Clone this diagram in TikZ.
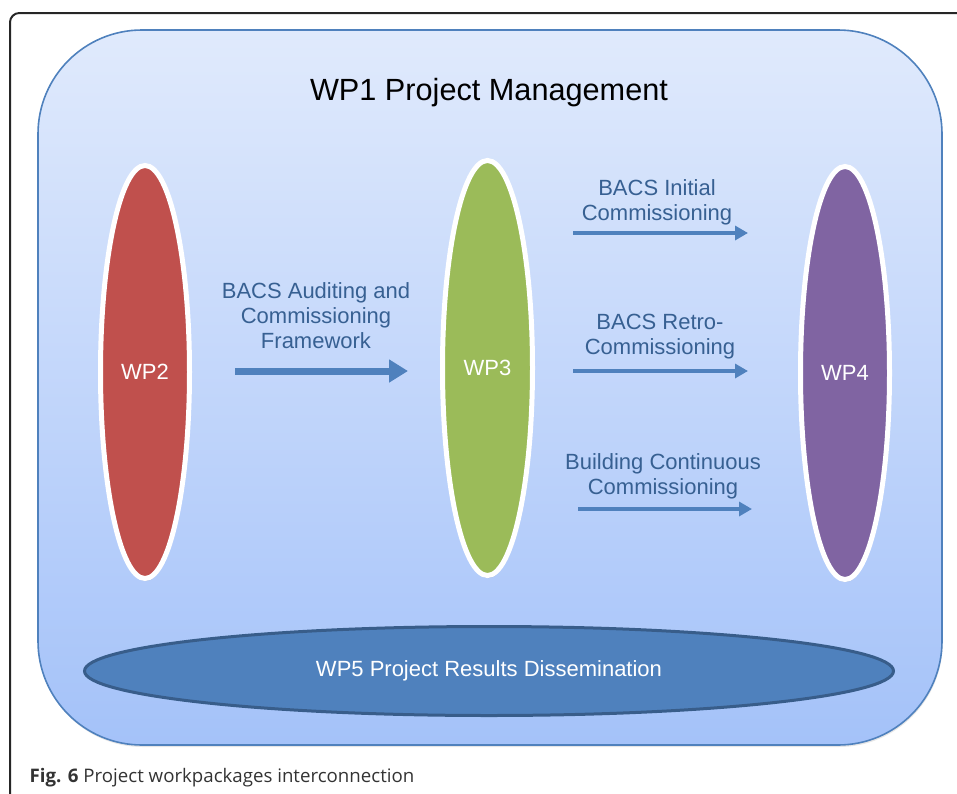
\documentclass[tikz,border=0pt]{standalone}
\usepackage{fontspec}
\setmainfont{Liberation Sans}
\newfontfamily\capfont{Open Sans}
\usetikzlibrary{shapes.geometric}
\usetikzlibrary{arrows.meta}
\usetikzlibrary{shadows}

\definecolor{wpred}{RGB}{192,80,77}
\definecolor{wpgreen}{RGB}{155,187,89}
\definecolor{wppurple}{RGB}{128,100,162}
\definecolor{wpblue}{RGB}{79,129,189}
\definecolor{wpdark}{RGB}{56,93,138}
\definecolor{flowtext}{RGB}{55,96,146}
\definecolor{boxtop}{RGB}{224,234,252}
\definecolor{boxbottom}{RGB}{164,194,249}

\begin{document}
\begin{tikzpicture}[x=0.75pt, y=-0.75pt,
		wp/.style={ellipse, draw=white, line width=3.75pt, text=white, inner sep=0pt,
			font=\fontsize{16.5}{20}\selectfont,
			drop shadow={opacity=0.25, shadow xshift=0.5pt, shadow yshift=-2pt}},
		flow/.style={-{Triangle[length=9.75pt, width=10.5pt]}, line width=3.4pt, draw=wpblue},
		flowlabel/.style={text=flowtext, align=center, font=\fontsize{16.5}{18.75}\selectfont}]
			\useasboundingbox (0,0) rectangle (957,793);
			% figure frame and caption
			\draw[line width=1.5pt, black!85, rounded corners=7pt] (10,800) -- (10,13) -- (970,13);
			\node[anchor=base west, font=\capfont\fontsize{14}{17}\selectfont, text=black!80] (caption) at (25,782) {\textbf{Fig. 6} Project workpackages interconnection};
			% WP1 box
			\path[draw=wpblue, line width=1.2pt, top color=boxtop, bottom color=boxbottom, rounded corners=78pt,
				drop shadow={opacity=0.2, shadow xshift=0.5pt, shadow yshift=-1.5pt}] (38,30) rectangle (942,745);
			\node[font=\fontsize{23}{28}\selectfont] (wp1) at (489,93) {WP1 Project Management};
			% work packages
			\node[wp, fill=wpred, minimum width=66.75pt, minimum height=309.75pt] (wp2) at (145,372) {WP2};
			\node[wp, fill=wpgreen, minimum width=67.5pt, minimum height=311.25pt] (wp3) at (487.5,368) {WP3};
			\node[wp, fill=wppurple, minimum width=66.75pt, minimum height=309.75pt] (wp4) at (845,373) {WP4};
			\node[ellipse, draw=wpdark, line width=2.25pt, fill=wpblue, text=white, inner sep=0pt,
				minimum width=606.75pt, minimum height=66.75pt, font=\fontsize{16.5}{20}\selectfont] (wp5) at (489,671) {WP5 Project Results Dissemination};
			% flows between the work packages
			\coordinate (fwS) at (235,371);
			\coordinate (fwE) at (408,371);
			\coordinate (icS) at (573,233);
			\coordinate (icE) at (748,233);
			\coordinate (rcS) at (573,371);
			\coordinate (rcE) at (748,371);
			\coordinate (ccS) at (578,509);
			\coordinate (ccE) at (752,509);
			\draw[flow, line width=5.25pt, -{Triangle[length=14.25pt, width=16.5pt]}] (fwS) -- (fwE);
			\draw[flow] (icS) -- (icE);
			\draw[flow] (rcS) -- (rcE);
			\draw[flow] (ccS) -- (ccE);
			\node[flowlabel] (fwlabel) at (316,316) {BACS Auditing and\\Commissioning\\Framework};
			\node[flowlabel] (iclabel) at (657,202) {BACS Initial\\Commissioning};
			\node[flowlabel] (rclabel) at (660,337) {BACS Retro-\\Commissioning};
			\node[flowlabel] (cclabel) at (663,476) {Building Continuous\\Commissioning};
		\end{tikzpicture}
\end{document}
